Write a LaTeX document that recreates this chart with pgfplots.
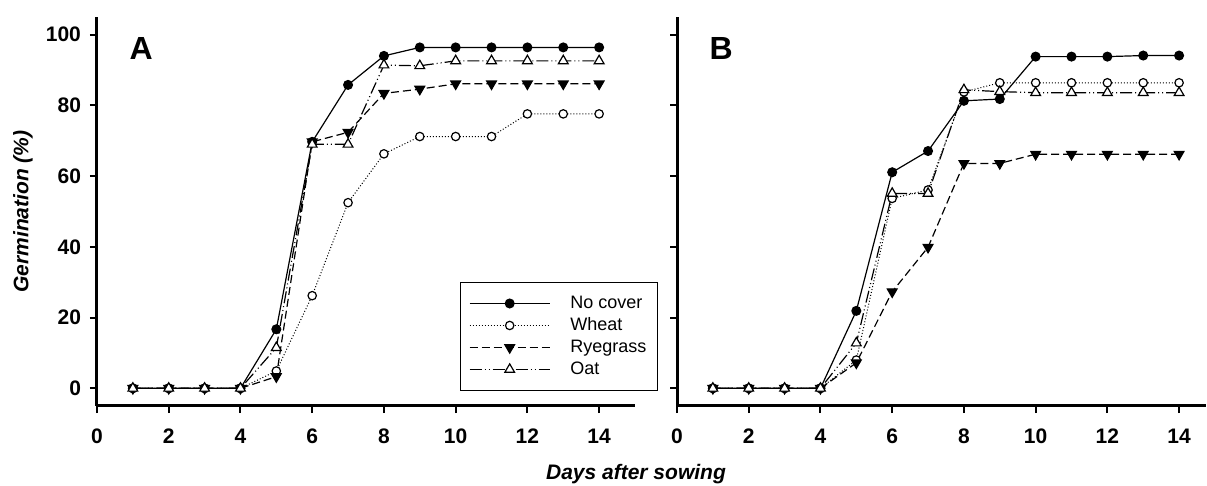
\documentclass[border=0pt]{standalone}
\usepackage{pgfplots}
\pgfplotsset{compat=1.18}
\usepackage{fontspec}
\setmainfont{Liberation Sans}

\pgfplotsset{
  germ/.style={
    scale only axis,
    height=194.5pt,
    xmin=0, ymin=-5, ymax=105,
    axis x line=bottom, axis y line=left,
    axis line style={-, line width=1.5pt},
    tick align=outside,
    major tick length=3.5pt,
    tick style={line width=1pt, black},
    xtick={0,2,...,14},
    ytick={0,20,...,100},
    minor tick num=0,
    /pgf/number format/assume math mode=true,
    ticklabel style={font=\fontsize{10.5}{12}\selectfont\bfseries},
    xticklabel style={yshift=-4.5pt},
    yticklabel style={xshift=-1pt},
    clip=false,
  },
  nocover/.style={black, line width=0.6pt, solid, mark=*, mark size=2.2pt, mark options={solid, fill=black}},
  wheat/.style={black, line width=0.5pt, dash pattern=on 0.5pt off 1pt, mark=*, mark size=2.1pt, mark options={solid, fill=white, line width=0.6pt}},
  rye/.style={black, line width=0.6pt, dash pattern=on 4pt off 2pt, mark=triangle*, mark size=2.8pt, mark options={solid, fill=black, rotate=180}},
  oat/.style={black, line width=0.6pt, dash pattern=on 6pt off 1.5pt on 0.5pt off 1.5pt on 0.5pt off 1.5pt, mark=triangle*, mark size=2.8pt, mark options={solid, fill=white, line width=0.6pt}},
}

\begin{document}
\begin{tikzpicture}
\useasboundingbox (0,0) rectangle (603.5pt,-243pt);

% Panel A
\begin{axis}[germ,
  at={(48.5pt,-203pt)}, anchor=south west,
  width=269pt, xmax=15,
  legend style={at={(rel axis cs:0.674,0.0386)}, anchor=south west,
    draw=black, line width=0.5pt, inner xsep=4.5pt, inner ysep=5pt,
    font=\fontsize{9}{10}\selectfont,
    nodes={inner sep=1pt, text height=7pt, text depth=2pt},
    /tikz/column sep=9pt, row sep=0pt},
  legend cell align=left,
  legend image code/.code={\draw[mark repeat=2, mark phase=2, #1] plot coordinates {(0pt,0pt) (20pt,0pt) (40pt,0pt)};},
]
\addplot[nocover] coordinates {(1,0)(2,0)(3,0)(4,0)(5,16.7)(6,69.7)(7,85.8)(8,94.0)(9,96.4)(10,96.4)(11,96.4)(12,96.4)(13,96.4)(14,96.4)};
\addlegendentry{No cover}
\addplot[wheat] coordinates {(1,0)(2,0)(3,0)(4,0)(5,4.9)(6,26.2)(7,52.5)(8,66.3)(9,71.2)(10,71.2)(11,71.2)(12,77.6)(13,77.6)(14,77.6)};
\addlegendentry{Wheat}
\addplot[rye] coordinates {(1,0)(2,0)(3,0)(4,0)(5,3.3)(6,69.7)(7,72.4)(8,83.4)(9,84.6)(10,86.1)(11,86.1)(12,86.1)(13,86.1)(14,86.1)};
\addlegendentry{Ryegrass}
\addplot[oat] coordinates {(1,0)(2,0)(3,0)(4,0)(5,11.5)(6,69.0)(7,69.0)(8,91.4)(9,91.2)(10,92.6)(11,92.6)(12,92.6)(13,92.6)(14,92.6)};
\addlegendentry{Oat}
\node[font=\fontsize{16}{18}\selectfont\bfseries] at (axis cs:1.23,96.2) {A};
\end{axis}

% Panel B
\begin{axis}[germ,
  at={(338.5pt,-203pt)}, anchor=south west,
  width=264.5pt, xmax=14.75,
  yticklabels={},
]
\addplot[nocover] coordinates {(1,0)(2,0)(3,0)(4,0)(5,21.9)(6,61.1)(7,67.1)(8,81.3)(9,81.8)(10,93.8)(11,93.8)(12,93.8)(13,94.1)(14,94.1)};
\addplot[wheat] coordinates {(1,0)(2,0)(3,0)(4,0)(5,8.0)(6,53.7)(7,56.1)(8,83.8)(9,86.4)(10,86.4)(11,86.4)(12,86.4)(13,86.4)(14,86.4)};
\addplot[rye] coordinates {(1,0)(2,0)(3,0)(4,0)(5,7.2)(6,27.3)(7,39.9)(8,63.6)(9,63.6)(10,66.2)(11,66.2)(12,66.2)(13,66.2)(14,66.2)};
\addplot[oat] coordinates {(1,0)(2,0)(3,0)(4,0)(5,12.8)(6,55.1)(7,55.1)(8,84.4)(9,83.9)(10,83.6)(11,83.6)(12,83.6)(13,83.6)(14,83.6)};
\node[font=\fontsize{16}{18}\selectfont\bfseries] at (axis cs:1.23,96.2) {B};
\end{axis}

\node[rotate=90, font=\fontsize{10.5}{12}\selectfont\bfseries\itshape] at (11.5pt,-105.75pt) {Germination (\%)};
\node[anchor=base, font=\fontsize{10.5}{12}\selectfont\bfseries\itshape] at (318pt,-240pt) {Days after sowing};
\end{tikzpicture}
\end{document}
